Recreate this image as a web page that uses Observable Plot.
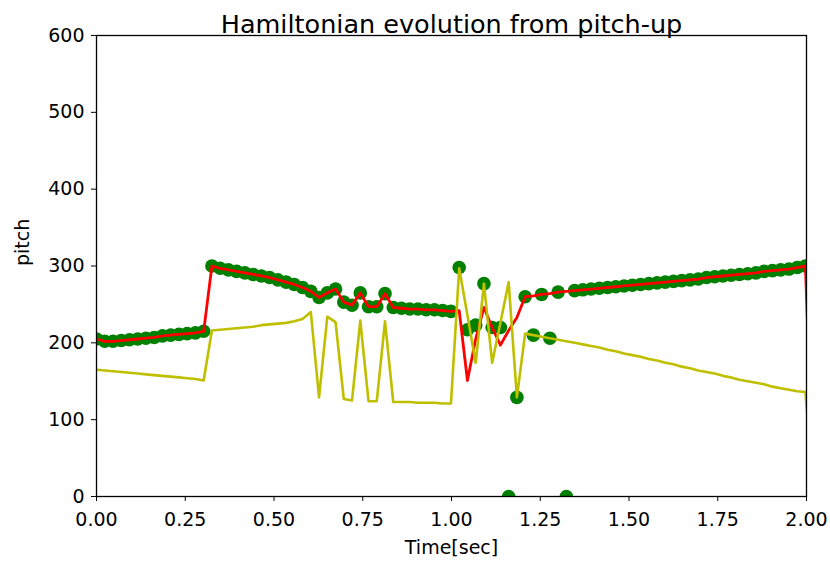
<!DOCTYPE html>
<html>
<head>
<meta charset="utf-8">
<script src="https://cdn.jsdelivr.net/npm/d3@7"></script>
<script src="https://cdn.jsdelivr.net/npm/@observablehq/plot@0.6"></script>
<style>
  html, body { margin: 0; padding: 0; background: white; }
</style>
</head>
<body>
<div id="chart"></div>
<script>
// Frame hop (seconds) – frames are sampled on a regular grid
const hop = 0.02322;

// Green dots: raw pitch estimate per frame (k = 0..87), null = no point
const greenPitch = [
  205, 202, 202, 203, 204, 205, 206, 207, 209, 210, 211, 212, 213, 215,
  300, 297, 295, 293, 291, 289, 287, 285, 282, 279, 276, 272, 267,
  259, 265, 270, 253, 249, 265, 247, 247, 264, 246, 245, 244, 244, 243, 243, 242, 241,
  298, 217, 223, 277, 220, 220, 0, 129, 260, 210, 263, 206, 266, 0,
  268, 269, 270, 271, 272, 273, 274, 275, 276, 277, 278, 279, 280, 281, 282, 283,
  285, 286, 287, 288, 289, 290, 291, 293, 294, 295, 296, 298, 300,
  null
];

// Red line: Hamiltonian-smoothed pitch per frame
const redPitch = [
  205, 202, 202, 203, 204, 205, 206, 207, 209, 210, 211, 212, 213, 215,
  300, 297, 295, 293, 291, 289, 287, 285, 282, 279, 276, 272, 267,
  259, 265, 270, 253, 249, 265, 247, 247, 264, 246, 245, 244, 244, 243, 243, 242, 241,
  242, 151, 205, 246, 220, 197, 216, 233, 260, 261, 263, 264, 266, 267,
  268, 269, 270, 271, 272, 273, 274, 275, 276, 277, 278, 279, 280, 281, 282, 283,
  285, 286, 287, 288, 289, 290, 291, 293, 294, 295, 296, 298, 300,
  0
];

// Yellow line: secondary trace per frame
const yellowPitch = [
  165, 164, 163, 162, 161, 160, 159, 158, 157, 156, 155, 154, 153, 151,
  216, 217, 218, 219, 220, 221, 223, 224, 225, 226, 228, 231, 240,
  129, 234, 227, 127, 125, 229, 124, 124, 228, 123, 123, 123, 122, 122, 122, 121, 121,
  297, 236, 174, 277, 174, 226, 279, 129, 212, 210, 208, 206, 204, 202,
  200, 198, 196, 194, 191, 189, 186, 184, 182, 179, 177, 174, 172, 169, 167, 164,
  162, 160, 157, 155, 152, 150, 148, 146, 143, 141, 139, 137, 136,
  0
];

const xTicks = [0, 0.25, 0.5, 0.75, 1.0, 1.25, 1.5, 1.75, 2.0];
const yTicks = [0, 100, 200, 300, 400, 500, 600];
const titleText = "Hamiltonian evolution from pitch-up";
const xLabel = "Time[sec]";
const yLabel = "pitch";

const data = greenPitch.map((g, k) => ({
  t: k * hop,
  green: g,
  red: redPitch[k],
  yellow: yellowPitch[k]
}));

const chart = Plot.plot({
  width: 830,
  height: 563,
  marginLeft: 96,
  marginRight: 24,
  marginTop: 35,
  marginBottom: 67,
  style: { fontFamily: "DejaVu Sans", fontSize: "19px", background: "white", color: "black" },
  x: { domain: [0, 2] },
  y: { domain: [0, 600] },
  marks: [
    Plot.dot(data.filter(d => d.green != null), {
      x: "t", y: "green", r: 6.8, fill: "#008000", clip: true
    }),
    Plot.line(data, { x: "t", y: "red", stroke: "#ff0000", strokeWidth: 2.8, clip: true }),
    Plot.line(data, { x: "t", y: "yellow", stroke: "#bfbf00", strokeWidth: 2.6, clip: true }),
    Plot.axisX({ ticks: xTicks, tickFormat: d => d.toFixed(2), tickSize: 5, tickPadding: 11, fontSize: 19, label: null }),
    Plot.axisY({ ticks: yTicks, tickFormat: d => String(d), tickSize: 5, tickPadding: 7, fontSize: 19, label: null }),
    Plot.frame({ stroke: "black", strokeWidth: 1.3 }),
    Plot.text([titleText], { text: d => d, frameAnchor: "top", dy: -21, fontSize: 25.5 }),
    Plot.text([xLabel], { text: d => d, frameAnchor: "bottom", dy: 57, fontSize: 19 }),
    Plot.text([yLabel], { text: d => d, frameAnchor: "left", dx: -74, rotate: -90, fontSize: 19 })
  ]
});

document.getElementById("chart").appendChild(chart);
</script>
</body>
</html>
